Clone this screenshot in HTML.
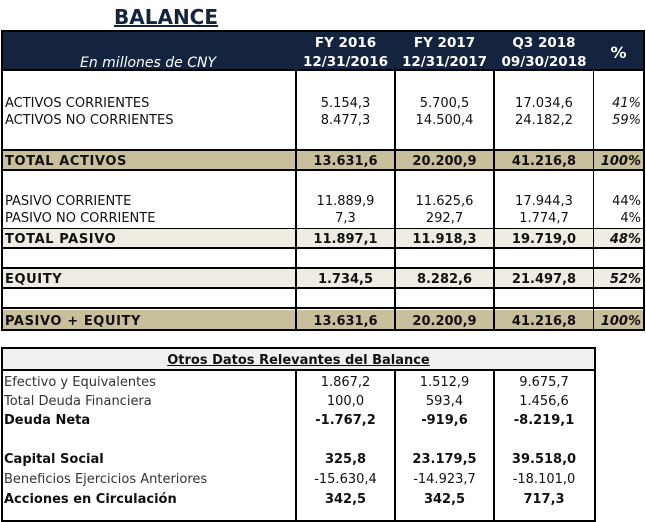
<!DOCTYPE html>
<html><head><meta charset="utf-8"><style>
body{margin:0;width:646px;height:510px;background:#fff;position:relative;overflow:hidden;font-family:"DejaVu Sans","Liberation Sans",sans-serif;font-size:13px;color:#111}
div{position:absolute;box-sizing:border-box}
.t{white-space:nowrap;line-height:15px;margin-top:2px}
.r{text-align:center}
.b{font-weight:bold}
.lb{letter-spacing:0.6px}
.hl{background:#000;height:2px}
.vl{background:#000;width:2px}
</style></head><body>
<div class="t b" style="left:114px;top:3px;font-size:20px;line-height:24px;color:#14243f;text-decoration:underline;">BALANCE</div>

<div style="left:1px;top:30px;width:644px;height:41px;background:#14243f;border:2px solid #000"></div>
<div class="t" style="left:80px;top:54px;color:#fff;font-style:italic;font-size:14px;line-height:14px">En millones de CNY</div>
<div class="t b r" style="left:296px;top:34px;width:99px;color:#fff;font-size:13.5px">FY 2016<br><span style="line-height:22px">12/31/2016</span></div>
<div class="t b r" style="left:395px;top:34px;width:99px;color:#fff;font-size:13.5px">FY 2017<br><span style="line-height:22px">12/31/2017</span></div>
<div class="t b r" style="left:494px;top:34px;width:100px;color:#fff;font-size:13.5px">Q3 2018<br><span style="line-height:22px">09/30/2018</span></div>
<div class="t b r" style="left:594px;top:43px;width:49px;color:#fff;font-size:16px">%</div>

<div style="left:2px;top:150px;width:641px;height:20px;background:#c8c09c"></div>
<div style="left:2px;top:229px;width:641px;height:19px;background:#efece3"></div>
<div style="left:2px;top:268px;width:641px;height:20px;background:#efece3"></div>
<div style="left:2px;top:310px;width:641px;height:20px;background:#c8c09c"></div>

<div class="hl" style="left:2px;top:149px;width:641px"></div>
<div class="hl" style="left:2px;top:169px;width:641px"></div>
<div class="hl" style="left:2px;top:228px;width:641px;height:1px"></div>
<div class="hl" style="left:2px;top:247px;width:641px"></div>
<div class="hl" style="left:2px;top:267px;width:641px"></div>
<div class="hl" style="left:2px;top:287px;width:641px"></div>
<div class="hl" style="left:2px;top:307px;width:641px"></div>
<div class="hl" style="left:2px;top:329px;width:641px"></div>
<div class="vl" style="left:1px;top:70px;height:261px"></div>
<div class="vl" style="left:295px;top:70px;height:261px"></div>
<div class="vl" style="left:394px;top:70px;height:261px"></div>
<div class="vl" style="left:493px;top:70px;height:261px"></div>
<div class="vl" style="left:593px;top:70px;height:261px;width:1px"></div>
<div class="vl" style="left:643px;top:70px;height:261px"></div>

<div class="t" style="left:5px;top:94px">ACTIVOS CORRIENTES<br><span style="line-height:19px">ACTIVOS NO CORRIENTES</span></div>
<div class="t r" style="left:296px;top:94px;width:99px">5.154,3<br><span style="line-height:19px">8.477,3</span></div>
<div class="t r" style="left:395px;top:94px;width:99px">5.700,5<br><span style="line-height:19px">14.500,4</span></div>
<div class="t r" style="left:494px;top:94px;width:100px">17.034,6<br><span style="line-height:19px">24.182,2</span></div>
<div class="t" style="left:594px;top:94px;width:47px;text-align:right;font-style:italic">41%<br><span style="line-height:19px">59%</span></div>

<div class="t b lb" style="left:5px;top:152px">TOTAL ACTIVOS</div>
<div class="t b r" style="left:296px;top:152px;width:99px">13.631,6</div>
<div class="t b r" style="left:395px;top:152px;width:99px">20.200,9</div>
<div class="t b r" style="left:494px;top:152px;width:100px">41.216,8</div>
<div class="t b" style="left:594px;top:152px;width:47px;text-align:right;font-style:italic">100%</div>

<div class="t" style="left:5px;top:192px">PASIVO CORRIENTE<br><span style="line-height:19px">PASIVO NO CORRIENTE</span></div>
<div class="t r" style="left:296px;top:192px;width:99px">11.889,9<br><span style="line-height:19px">7,3</span></div>
<div class="t r" style="left:395px;top:192px;width:99px">11.625,6<br><span style="line-height:19px">292,7</span></div>
<div class="t r" style="left:494px;top:192px;width:100px">17.944,3<br><span style="line-height:19px">1.774,7</span></div>
<div class="t" style="left:594px;top:192px;width:47px;text-align:right">44%<br><span style="line-height:19px">4%</span></div>

<div class="t b lb" style="left:5px;top:230px">TOTAL PASIVO</div>
<div class="t b r" style="left:296px;top:230px;width:99px">11.897,1</div>
<div class="t b r" style="left:395px;top:230px;width:99px">11.918,3</div>
<div class="t b r" style="left:494px;top:230px;width:100px">19.719,0</div>
<div class="t b" style="left:594px;top:230px;width:47px;text-align:right;font-style:italic">48%</div>

<div class="t b lb" style="left:5px;top:270px">EQUITY</div>
<div class="t b r" style="left:296px;top:270px;width:99px">1.734,5</div>
<div class="t b r" style="left:395px;top:270px;width:99px">8.282,6</div>
<div class="t b r" style="left:494px;top:270px;width:100px">21.497,8</div>
<div class="t b" style="left:594px;top:270px;width:47px;text-align:right;font-style:italic">52%</div>

<div class="t b lb" style="left:5px;top:312px">PASIVO + EQUITY</div>
<div class="t b r" style="left:296px;top:312px;width:99px">13.631,6</div>
<div class="t b r" style="left:395px;top:312px;width:99px">20.200,9</div>
<div class="t b r" style="left:494px;top:312px;width:100px">41.216,8</div>
<div class="t b" style="left:594px;top:312px;width:47px;text-align:right;font-style:italic">100%</div>

<div style="left:1px;top:347px;width:595px;height:175px;border:2px solid #000"></div>
<div style="left:3px;top:349px;width:591px;height:20px;background:#f0f0f0"></div>
<div class="hl" style="left:2px;top:369px;width:594px"></div>
<div class="t b r" style="left:3px;top:351px;width:591px;text-decoration:underline">Otros Datos Relevantes del Balance</div>
<div class="vl" style="left:295px;top:370px;height:150px"></div>
<div class="vl" style="left:394px;top:370px;height:150px"></div>
<div class="vl" style="left:493px;top:370px;height:150px"></div>

<div class="t" style="left:4px;top:373px;color:#333">Efectivo y Equivalentes</div>
<div class="t" style="left:4px;top:392px;color:#333">Total Deuda Financiera</div>
<div class="t b" style="left:4px;top:411px">Deuda Neta</div>
<div class="t b" style="left:4px;top:450px">Capital Social</div>
<div class="t" style="left:4px;top:470px;color:#333">Beneficios Ejercicios Anteriores</div>
<div class="t b" style="left:4px;top:490px">Acciones en Circulación</div>

<div class="t r" style="left:296px;top:373px;width:99px">1.867,2</div>
<div class="t r" style="left:395px;top:373px;width:99px">1.512,9</div>
<div class="t r" style="left:494px;top:373px;width:100px">9.675,7</div>
<div class="t r" style="left:296px;top:392px;width:99px">100,0</div>
<div class="t r" style="left:395px;top:392px;width:99px">593,4</div>
<div class="t r" style="left:494px;top:392px;width:100px">1.456,6</div>
<div class="t b r" style="left:296px;top:411px;width:99px">-1.767,2</div>
<div class="t b r" style="left:395px;top:411px;width:99px">-919,6</div>
<div class="t b r" style="left:494px;top:411px;width:100px">-8.219,1</div>
<div class="t b r" style="left:296px;top:450px;width:99px">325,8</div>
<div class="t b r" style="left:395px;top:450px;width:99px">23.179,5</div>
<div class="t b r" style="left:494px;top:450px;width:100px">39.518,0</div>
<div class="t r" style="left:296px;top:470px;width:99px">-15.630,4</div>
<div class="t r" style="left:395px;top:470px;width:99px">-14.923,7</div>
<div class="t r" style="left:494px;top:470px;width:100px">-18.101,0</div>
<div class="t b r" style="left:296px;top:490px;width:99px">342,5</div>
<div class="t b r" style="left:395px;top:490px;width:99px">342,5</div>
<div class="t b r" style="left:494px;top:490px;width:100px">717,3</div>
</body></html>
